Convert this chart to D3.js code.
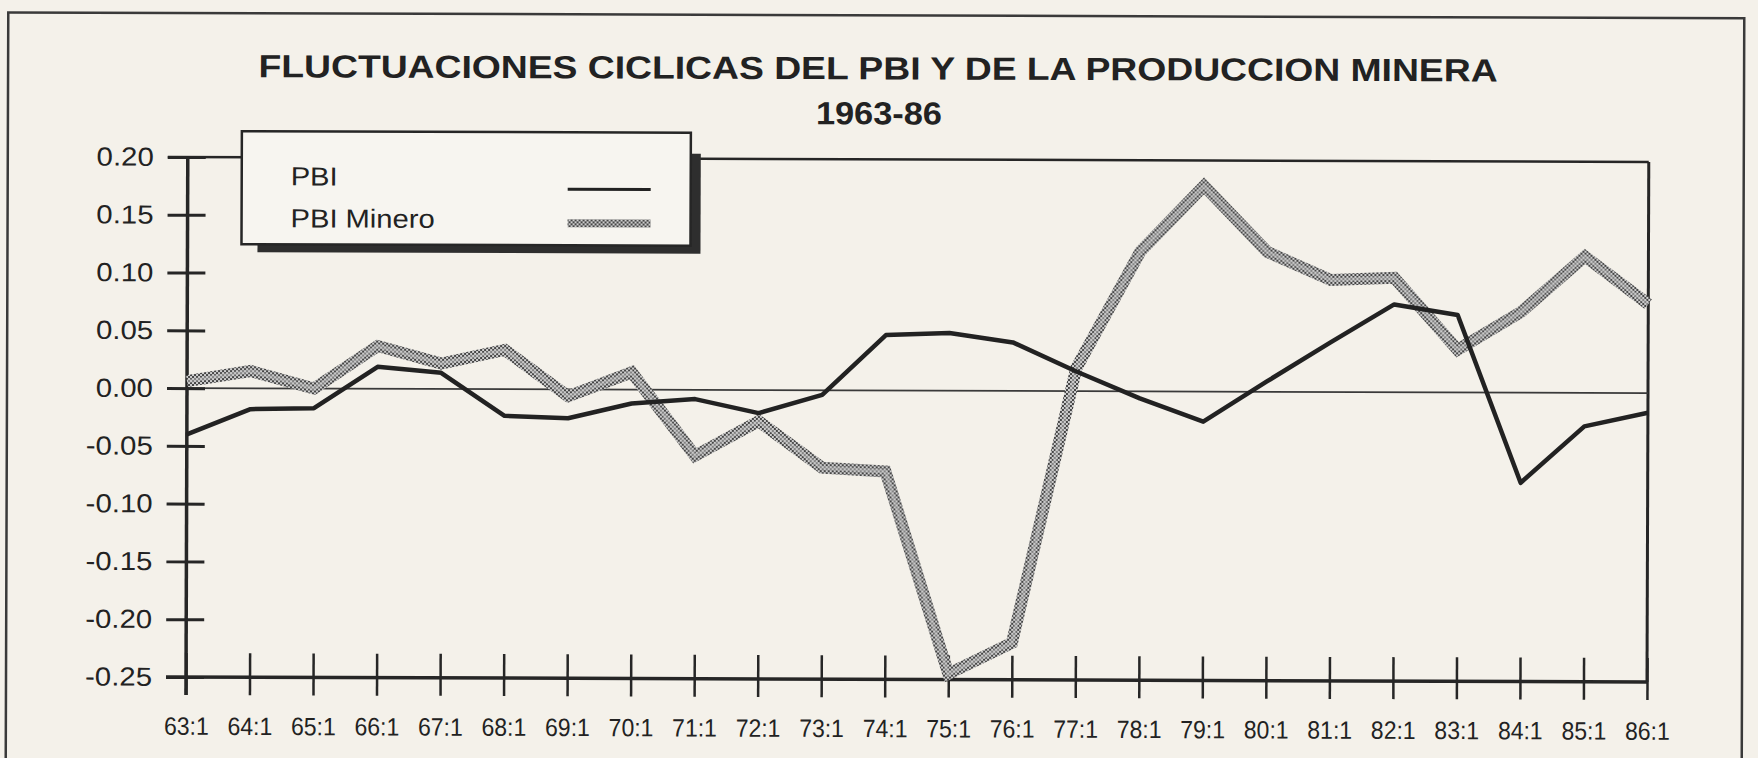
<!DOCTYPE html>
<html>
<head>
<meta charset="utf-8">
<script src="https://cdn.jsdelivr.net/npm/d3@7"></script>
<style>
  html, body { margin: 0; padding: 0; background: #f4f1ea; }
  svg { display: block; }
  text { font-family: "Liberation Sans", Arial, Helvetica, sans-serif; fill: #222; }
</style>
</head>
<body>
<script>
// ---- data ----
const categories = ["63:1","64:1","65:1","66:1","67:1","68:1","69:1","70:1","71:1","72:1","73:1","74:1",
                    "75:1","76:1","77:1","78:1","79:1","80:1","81:1","82:1","83:1","84:1","85:1","86:1"];
const pbi = [-0.040, -0.018, -0.017, 0.019, 0.014, -0.023, -0.025, -0.012, -0.008, -0.020, -0.004, 0.048,
             0.050, 0.042, 0.017, -0.006, -0.026, 0.009, 0.043, 0.076, 0.067, -0.078, -0.029, -0.017];
const pbiMinero = [0.006, 0.015, 0.000, 0.037, 0.022, 0.034, -0.006, 0.015, -0.057, -0.027, -0.067, -0.070,
                   -0.245, -0.218, 0.020, 0.121, 0.178, 0.121, 0.097, 0.099, 0.037, 0.070, 0.118, 0.077];
const yTicks = [0.20, 0.15, 0.10, 0.05, 0.00, -0.05, -0.10, -0.15, -0.20, -0.25];
const seriesNames = ["PBI", "PBI Minero"];
const titleText = "FLUCTUACIONES CICLICAS DEL PBI Y DE LA PRODUCCION MINERA";
const subtitleText = "1963-86";

(function () {
// ---- layout ----
const W = 1758, H = 758;
const pL = 187, pR = 1648, pT = 157, pB = 677;
const ink = "#262626";

const svg = d3.select("body").append("svg").attr("width", W).attr("height", H);

const defs = svg.append("defs");
const pat = defs.append("pattern").attr("id", "dither")
  .attr("patternUnits", "userSpaceOnUse").attr("width", 4).attr("height", 4);
pat.append("rect").attr("width", 4).attr("height", 4).attr("fill", "#cfcfcf");
pat.append("rect").attr("width", 2).attr("height", 2).attr("fill", "#454545");
pat.append("rect").attr("x", 2).attr("y", 2).attr("width", 2).attr("height", 2).attr("fill", "#454545");

const root = svg.append("g").attr("transform", `rotate(0.196, ${pL}, 387)`);

// outer frame
root.append("rect").attr("x", 7).attr("y", 13).attr("width", 1736).attr("height", 800)
  .attr("fill", "none").attr("stroke", "#3a3a3a").attr("stroke-width", 2.5);

const x = d3.scalePoint().domain(categories).range([pL, pR]);
const y = d3.scaleLinear().domain([-0.25, 0.20]).range([pB, pT]);

// title
root.append("text").attr("x", 877).attr("y", 77).attr("text-anchor", "middle")
  .attr("font-size", 32).attr("font-weight", "bold")
  .attr("textLength", 1239).attr("lengthAdjust", "spacingAndGlyphs").text(titleText);
root.append("text").attr("x", 878).attr("y", 122).attr("text-anchor", "middle")
  .attr("font-size", 32).attr("font-weight", "bold")
  .attr("textLength", 126).attr("lengthAdjust", "spacingAndGlyphs").text(subtitleText);

function stretch(sel, f) {
  sel.each(function () {
    const w = this.getComputedTextLength();
    d3.select(this).attr("textLength", w * f).attr("lengthAdjust", "spacingAndGlyphs");
  });
}

// frame top & right
root.append("line").attr("x1", pL - 20).attr("x2", pR).attr("y1", y(0.20)).attr("y2", y(0.20))
  .attr("stroke", ink).attr("stroke-width", 2.5);
root.append("line").attr("x1", pR).attr("x2", pR).attr("y1", y(0.20)).attr("y2", y(-0.25))
  .attr("stroke", ink).attr("stroke-width", 3);

// zero line
root.append("line").attr("x1", pL).attr("x2", pR).attr("y1", y(0)).attr("y2", y(0))
  .attr("stroke", "#3a3a3a").attr("stroke-width", 1.8);

// y axis
const yAxis = root.append("g").attr("transform", `translate(${pL},0)`)
  .call(d3.axisLeft(y).tickValues(yTicks).tickFormat(d => d.toFixed(2)).tickSize(20).tickPadding(14));
yAxis.select(".domain").remove();
yAxis.selectAll(".tick line").attr("x1", -20).attr("x2", 18).attr("stroke", ink).attr("stroke-width", 3);
yAxis.selectAll(".tick text").attr("font-size", 26).attr("fill", "#222").attr("x", -34)
  .attr("font-family", '"Liberation Sans", Arial, sans-serif');
stretch(yAxis.selectAll(".tick text"), 1.13);
root.append("line").attr("x1", pL).attr("x2", pL).attr("y1", y(0.20)).attr("y2", y(-0.25) + 18)
  .attr("stroke", ink).attr("stroke-width", 3.5);

// x axis
const xAxis = root.append("g").attr("transform", `translate(0,${pB})`)
  .call(d3.axisBottom(x).tickSize(0).tickPadding(40));
xAxis.select(".domain").remove();
xAxis.selectAll(".tick").append("line").attr("y1", -24).attr("y2", 18)
  .attr("stroke", ink).attr("stroke-width", 2.5);
xAxis.selectAll(".tick text").attr("font-size", 25).attr("fill", "#222")
  .attr("font-family", '"Liberation Sans", Arial, sans-serif');
stretch(xAxis.selectAll(".tick text"), 0.92);
root.append("line").attr("x1", pL - 20).attr("x2", pR).attr("y1", pB).attr("y2", pB)
  .attr("stroke", ink).attr("stroke-width", 3.5);

// series
const line = d3.line().x((d, i) => x(categories[i])).y(d => y(d));
root.append("path").datum(pbiMinero).attr("d", line).attr("fill", "none")
  .attr("stroke", "url(#dither)").attr("stroke-width", 12).attr("stroke-linejoin", "miter");
root.append("path").datum(pbiMinero).attr("d", line).attr("fill", "none")
  .attr("stroke", "#c4c4c4").attr("stroke-opacity", 0.5).attr("stroke-width", 4);
root.append("path").datum(pbi).attr("d", line).attr("fill", "none")
  .attr("stroke", "#222").attr("stroke-width", 4.5).attr("stroke-linejoin", "round");

// legend
const lg = root.append("g");
lg.append("rect").attr("x", 257).attr("y", 152).attr("width", 443).attr("height", 100).attr("fill", "#2e2e2e");
lg.append("rect").attr("x", 241).attr("y", 131).attr("width", 449).attr("height", 113)
  .attr("fill", "#f7f5f0").attr("stroke", ink).attr("stroke-width", 2.5);
const lt = lg.selectAll("text.leg").data(seriesNames).enter().append("text").attr("class", "leg")
  .attr("x", 290).attr("y", (d, i) => 185 + i * 42).attr("font-size", 26).text(d => d);
stretch(lt, 1.12);
lg.append("line").attr("x1", 567).attr("x2", 650).attr("y1", 188).attr("y2", 188)
  .attr("stroke", "#222").attr("stroke-width", 3);
lg.append("line").attr("x1", 567).attr("x2", 650).attr("y1", 222).attr("y2", 222)
  .attr("stroke", "url(#dither)").attr("stroke-width", 8);
})();
</script>
</body>
</html>
